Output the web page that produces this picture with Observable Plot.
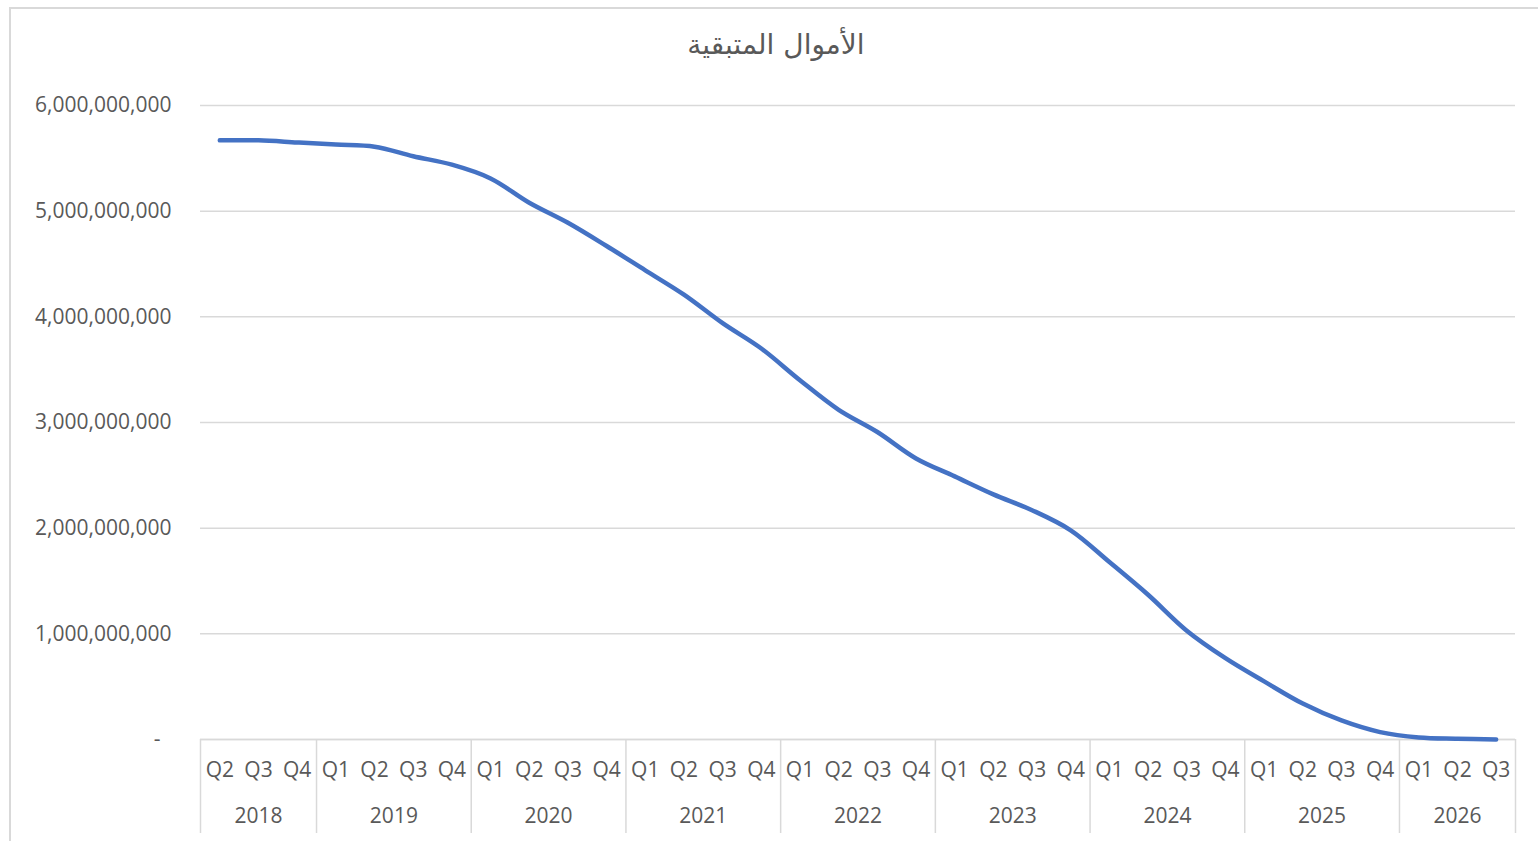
<!DOCTYPE html>
<html><head><meta charset="utf-8">
<script src="https://cdn.jsdelivr.net/npm/d3@7"></script>
<script src="https://cdn.jsdelivr.net/npm/@observablehq/plot@0.6"></script>
<style>
body{margin:0;background:#fff;width:1538px;height:841px;overflow:hidden;position:relative;font-family:"Open Sans",sans-serif}
#frame{position:absolute;left:9px;top:7px;width:1600px;height:900px;border:2px solid #d9d9d9;box-sizing:border-box}
#title{position:absolute;left:0;width:1552px;top:28px;text-align:center;font-family:"DejaVu Sans",sans-serif;font-size:28px;color:#595959;line-height:1.2}
#chart{position:absolute;left:0;top:0}
</style></head><body>
<div id="frame"></div>
<div id="title" dir="rtl">الأموال المتبقية</div>
<div id="chart"></div>
<script>
const quarterLabels = ["Q2","Q3","Q4",
  "Q1","Q2","Q3","Q4", "Q1","Q2","Q3","Q4", "Q1","Q2","Q3","Q4",
  "Q1","Q2","Q3","Q4", "Q1","Q2","Q3","Q4", "Q1","Q2","Q3","Q4",
  "Q1","Q2","Q3","Q4", "Q1","Q2","Q3"];
const yearLabels = ["2018","2018","2018",
  "2019","2019","2019","2019", "2020","2020","2020","2020", "2021","2021","2021","2021",
  "2022","2022","2022","2022", "2023","2023","2023","2023", "2024","2024","2024","2024",
  "2025","2025","2025","2025", "2026","2026","2026"];
const remaining = [5.67e9, 5.67e9, 5.65e9,
  5.63e9, 5.61e9, 5.52e9, 5.44e9,
  5.31e9, 5.08e9, 4.89e9, 4.67e9,
  4.44e9, 4.21e9, 3.94e9, 3.70e9,
  3.40e9, 3.12e9, 2.91e9, 2.66e9,
  2.49e9, 2.32e9, 2.17e9, 1.98e9,
  1.68e9, 1.37e9, 1.03e9, 0.77e9,
  0.55e9, 0.34e9, 0.18e9, 0.07e9,
  0.02e9, 0.008e9, 0.0];
const yTicks = [0, 1e9, 2e9, 3e9, 4e9, 5e9, 6e9];

const data = remaining.map((v, i) => ({i, v, q: quarterLabels[i], year: yearLabels[i]}));
const groups = d3.groups(data, d => d.year).map(([year, rows]) => ({year, first: rows[0].i, last: rows[rows.length - 1].i}));
const boundaries = [groups[0].first - 0.5, ...groups.map(g => g.last + 0.5)];
const yearMids = groups.map(g => ({year: g.year, mid: (g.first + g.last) / 2}));
const fmt = d3.format(",");
const grey = "#595959";

const chart = Plot.plot({
  width: 1538, height: 841,
  marginLeft: 200, marginRight: 23, marginTop: 105, marginBottom: 102,
  x: {type: "linear", domain: [-0.5, remaining.length - 0.5]},
  y: {domain: [0, 6e9]},
  style: {fontFamily: "'Open Sans', sans-serif", fontSize: "21px", color: grey, background: "transparent"},
  marks: [
    Plot.gridY(yTicks, {stroke: "#d9d9d9", strokeOpacity: 1, strokeWidth: 1.5}),
    Plot.axisY(yTicks, {tickSize: 0, tickPadding: 29, tickFormat: d => d === 0 ? "-\u00a0\u00a0" : fmt(d), fill: grey, label: null}),
    Plot.ruleY([0], {stroke: "#d9d9d9", strokeWidth: 1.5}),
    Plot.axisX(boundaries, {tickSize: 94, tickFormat: () => "", stroke: "#d9d9d9", strokeOpacity: 1, strokeWidth: 1.5, label: null}),
    Plot.axisX(data.map(d => d.i), {tickSize: 0, tickPadding: 23, tickFormat: i => quarterLabels[i], fill: grey, label: null}),
    Plot.text(yearMids, {x: "mid", text: "year", frameAnchor: "bottom", dy: 83, fill: grey}),
    Plot.line(data, {x: "i", y: "v", stroke: "#4472C4", strokeWidth: 4.5, curve: "catmull-rom"})
  ]
});
document.getElementById("chart").append(chart);
</script>
</body></html>
